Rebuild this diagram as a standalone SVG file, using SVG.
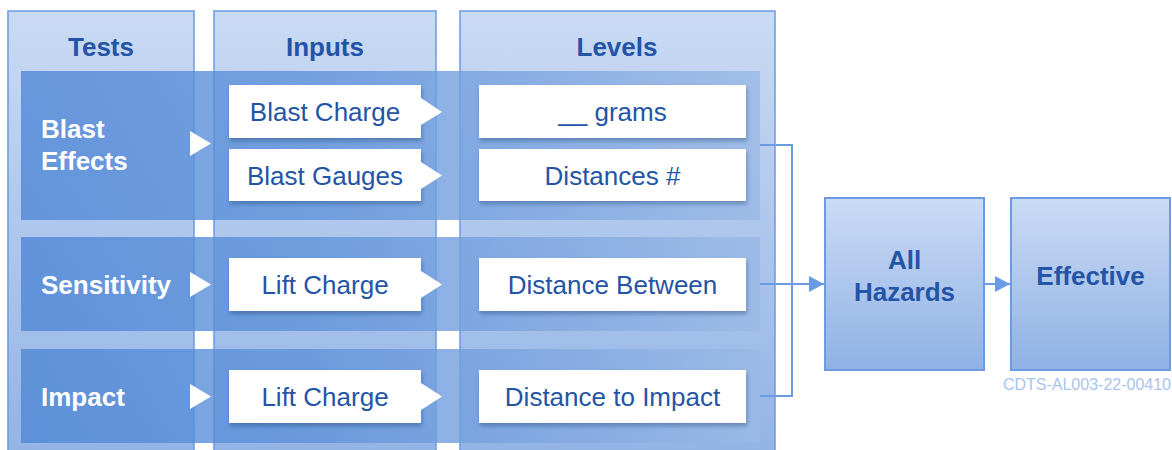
<svg xmlns="http://www.w3.org/2000/svg" width="1172" height="450" viewBox="0 0 1172 450">
<defs>
<linearGradient id="colGrad" x1="0" y1="0" x2="0" y2="1">
<stop offset="0" stop-color="#cadaf3"/>
<stop offset="1" stop-color="#91b2e5"/>
</linearGradient>
<linearGradient id="bandGrad" gradientUnits="userSpaceOnUse" x1="21" y1="0" x2="760" y2="0">
<stop offset="0" stop-color="#5087d6"/>
<stop offset="0.4" stop-color="#6093da"/>
<stop offset="1" stop-color="#9ab9e6"/>
</linearGradient>
<linearGradient id="boxGrad" x1="0" y1="0" x2="0" y2="1">
<stop offset="0" stop-color="#cbdbf4"/>
<stop offset="1" stop-color="#8fb1e5"/>
</linearGradient>
<filter id="shadow" x="-10%" y="-20%" width="120%" height="150%">
<feDropShadow dx="1" dy="3" stdDeviation="2" flood-color="#1d3d70" flood-opacity="0.4"/>
</filter>
<marker id="arrow" markerWidth="15" markerHeight="16" refX="15" refY="8" orient="auto" markerUnits="userSpaceOnUse">
<path d="M0,0 L15,8 L0,16 Z" fill="#6b9be2"/>
</marker>
</defs>
<style>
.col{fill:url(#colGrad);stroke:#6b9be2;stroke-width:1.5}
.band{fill:url(#bandGrad);opacity:0.8}
.wbox{fill:#ffffff;filter:url(#shadow)}
.tri{fill:#ffffff}
.hdr{font-family:"Liberation Sans",Arial,sans-serif;font-size:26px;font-weight:bold;fill:#2454a6;text-anchor:middle}
.test{font-family:"Liberation Sans",Arial,sans-serif;font-size:26px;font-weight:bold;fill:#ffffff}
.lbl{font-family:"Liberation Sans",Arial,sans-serif;font-size:26px;fill:#2454a6;text-anchor:middle}
.big{fill:url(#boxGrad);stroke:#6b9be2;stroke-width:2}
.conn{fill:none;stroke:#6b9be2;stroke-width:2}
.cap{font-family:"Liberation Sans",Arial,sans-serif;font-size:16px;fill:#a9c4ef;text-anchor:end}
</style>

<g id="columns">
<g id="col-tests">
<rect class="col" x="8" y="11" width="186" height="460"/>
<text class="hdr" x="101" y="56">Tests</text>
</g>
<g id="col-inputs">
<rect class="col" x="214" y="11" width="222" height="460"/>
<text class="hdr" x="325" y="56">Inputs</text>
</g>
<g id="col-levels">
<rect class="col" x="460" y="11" width="315" height="460"/>
<text class="hdr" x="617" y="56">Levels</text>
</g>
</g>

<g id="bands">
<rect class="band" x="21" y="71" width="739" height="149"/>
<rect class="band" x="21" y="237" width="739" height="94"/>
<rect class="band" x="21" y="349" width="739" height="94"/>
</g>

<g id="connectors">
<polyline class="conn" points="760,145 792,145 792,396 760,396"/>
<line class="conn" x1="760" y1="284" x2="824" y2="284" marker-end="url(#arrow)"/>
<line class="conn" x1="984" y1="284" x2="1010" y2="284" marker-end="url(#arrow)"/>
</g>

<g id="test-blast">
<text class="test" x="41" y="138">Blast</text>
<text class="test" x="41" y="170">Effects</text>
<polygon class="tri" points="190,131 211,143.5 190,156"/>
</g>
<g id="test-sensitivity">
<text class="test" x="41" y="294">Sensitivity</text>
<polygon class="tri" points="190,272 211,284.5 190,297"/>
</g>
<g id="test-impact">
<text class="test" x="41" y="406">Impact</text>
<polygon class="tri" points="190,384 211,396.5 190,409"/>
</g>

<g id="input-blast-charge">
<rect class="wbox" x="229" y="85" width="192" height="53"/>
<polygon class="tri" points="421,98 442,112 421,125"/>
<text class="lbl" x="325" y="121">Blast Charge</text>
</g>
<g id="input-blast-gauges">
<rect class="wbox" x="229" y="149" width="192" height="52"/>
<polygon class="tri" points="421,162 442,175.5 421,189"/>
<text class="lbl" x="325" y="185">Blast Gauges</text>
</g>
<g id="input-lift-charge-1">
<rect class="wbox" x="229" y="258" width="192" height="53"/>
<polygon class="tri" points="421,271 442,284.5 421,298"/>
<text class="lbl" x="325" y="294">Lift Charge</text>
</g>
<g id="input-lift-charge-2">
<rect class="wbox" x="229" y="370" width="192" height="53"/>
<polygon class="tri" points="421,383 442,396.5 421,410"/>
<text class="lbl" x="325" y="406">Lift Charge</text>
</g>

<g id="level-grams">
<rect class="wbox" x="479" y="85" width="267" height="53"/>
<text class="lbl" x="612.5" y="121">__ grams</text>
</g>
<g id="level-distances">
<rect class="wbox" x="479" y="149" width="267" height="52"/>
<text class="lbl" x="612.5" y="185">Distances #</text>
</g>
<g id="level-distance-between">
<rect class="wbox" x="479" y="258" width="267" height="53"/>
<text class="lbl" x="612.5" y="294">Distance Between</text>
</g>
<g id="level-distance-impact">
<rect class="wbox" x="479" y="370" width="267" height="53"/>
<text class="lbl" x="612.5" y="406">Distance to Impact</text>
</g>

<g id="all-hazards">
<rect class="big" x="825" y="198" width="159" height="172"/>
<text class="hdr" x="904.5" y="269">All</text>
<text class="hdr" x="904.5" y="301">Hazards</text>
</g>
<g id="effective">
<rect class="big" x="1011" y="198" width="159" height="172"/>
<text class="hdr" x="1090.5" y="285">Effective</text>
</g>

<text class="cap" x="1171" y="390">CDTS-AL003-22-00410</text>
</svg>
